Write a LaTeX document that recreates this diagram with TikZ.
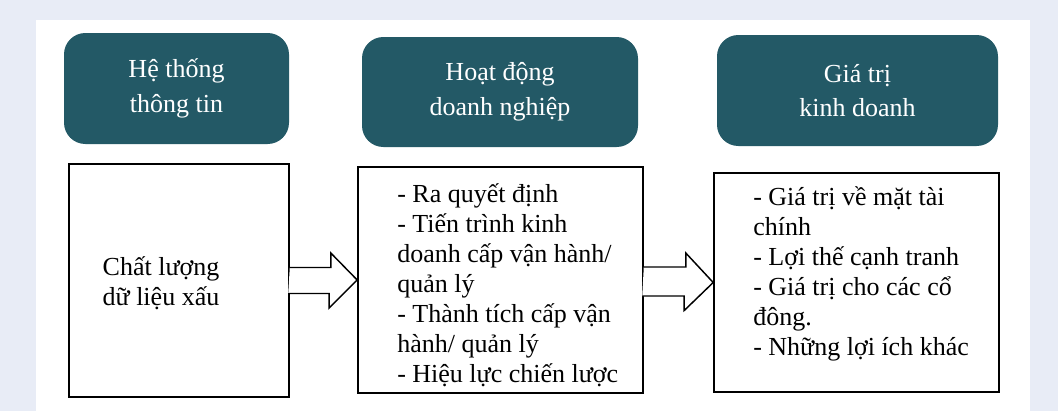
\documentclass[tikz,border=0pt]{standalone}
\usepackage{fontspec}
\setmainfont{Liberation Serif}
\usepackage{tikz}
\usetikzlibrary{positioning}

\definecolor{tealbox}{RGB}{35,89,102}
\definecolor{pagebg}{RGB}{232,236,246}

\begin{document}
\begin{tikzpicture}[
  x=0.75pt, y=-0.75pt,
  every node/.style={font=\fontsize{19.5}{22.5}\selectfont},
  head/.style={fill=tealbox, text=white, rounded corners=16pt, align=center,
    font=\fontsize{19.5}{26}\selectfont},
  frame/.style={draw, line width=1.2pt, fill=white},
  itemtext/.style={align=left, anchor=west, inner sep=0pt},
  blockarr/.style={draw, fill=white, line width=1.1pt, line join=miter}
]
\useasboundingbox (0,0) rectangle (1058,411);
\fill[pagebg] (0,0) rectangle (1058,411);
\fill[white] (36,20) rectangle (1030,411);

% header boxes
\node[head, minimum width=168.75pt, minimum height=83.25pt] (sys) at (176.5,88.5)
  {Hệ thống\\thông tin};
\node[head, minimum width=207pt, minimum height=82.5pt] (biz) at (500,92)
  {Hoạt động\\doanh nghiệp};
\node[head, minimum width=210.75pt, minimum height=83.25pt] (worth) at (857.5,90.5)
  {Giá trị\\kinh doanh};

% content boxes
\node[frame, minimum width=165pt, minimum height=174.75pt] (dq) at (179,280.5) {};
\node[frame, minimum width=213.75pt, minimum height=169.5pt] (ops) at (500.5,280) {};
\node[frame, minimum width=213.75pt, minimum height=164.25pt] (val) at (856.5,282.5) {};

\node[align=center, inner sep=0pt] (dqtext) at (161,283) {Chất lượng\\dữ liệu xấu};
\node[itemtext] (opstext) at (397,285)
  {- Ra quyết định\\- Tiến trình kinh\\doanh cấp vận hành/\\quản lý\\- Thành tích cấp vận\\hành/ quản lý\\- Hiệu lực chiến lược};
\node[itemtext] (valtext) at (753,274)
  {- Giá trị về mặt tài\\chính\\- Lợi thế cạnh tranh\\- Giá trị cho các cổ\\đông.\\- Những lợi ích khác};

% block arrows
\draw[blockarr] (dq.east) ++(0,-13) -- ++(41,0) -- ++(0,-14.5) -- (ops.west)
  -- ++(-28,28) -- ++(0,-14.5) -- ++(-41,0);
\draw[blockarr] (ops.east) ++(0,-13) -- ++(42,0) -- ++(0,-14) -- (val.west)
  -- ++(-29,28) -- ++(0,-14.5) -- ++(-42,0);
\end{tikzpicture}
\end{document}
